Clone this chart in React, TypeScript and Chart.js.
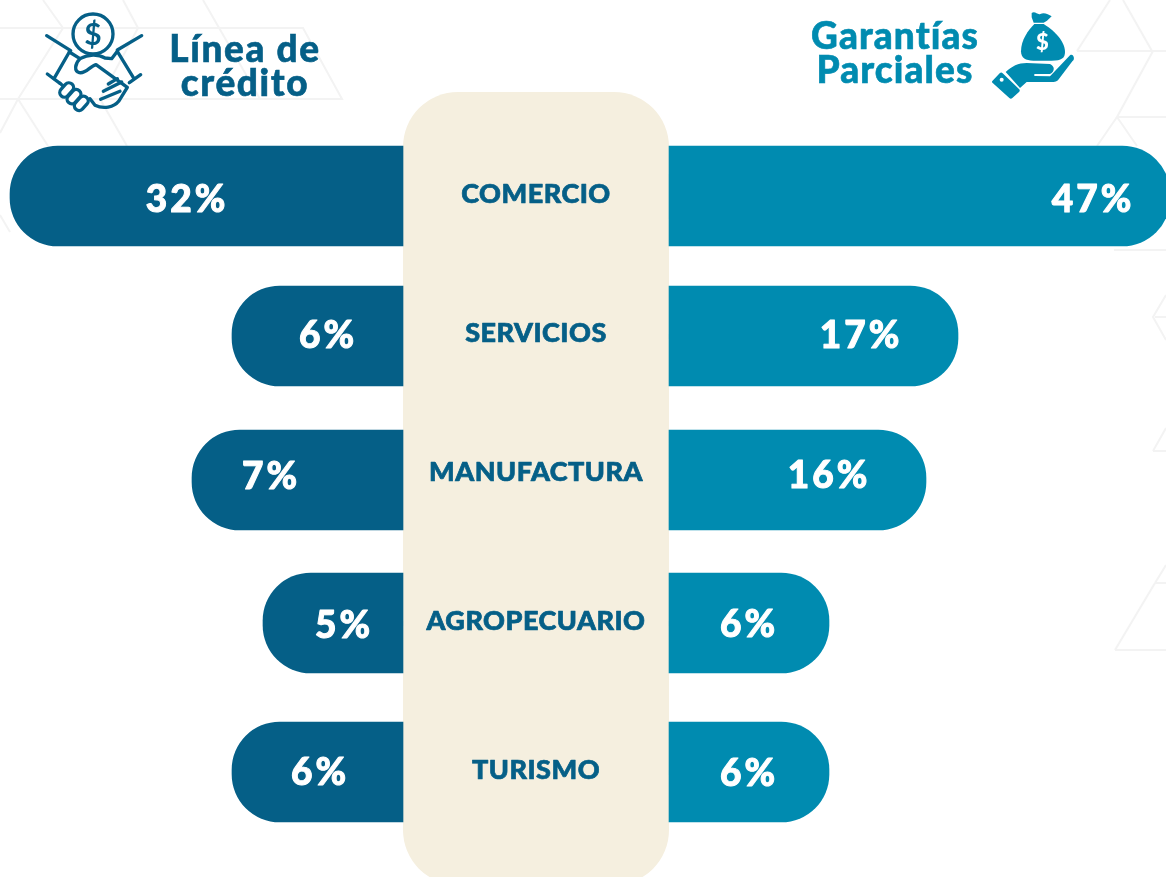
import React, { useEffect, useRef } from "react";
import { Chart, registerables } from "chart.js";

Chart.register(...registerables);

// ---- data ----
const categories = ["COMERCIO", "SERVICIOS", "MANUFACTURA", "AGROPECUARIO", "TURISMO"];
const lineaLabels = ["32%", "6%", "7%", "5%", "6%"];
const garantiasLabels = ["47%", "17%", "16%", "6%", "6%"];
// the bars in the picture are not proportional to their printed percent: these are their drawn lengths
const lineaLengths = [393, 171, 211, 140, 171];
const garantiasLengths = [501, 289, 257, 160, 160];
// row order along the value axis (rows are not quite evenly spaced in the picture)
const rowPositions = [0, 0.972, 1.972, 2.965, 4];

const DARK = "#055f87";
const LIGHT = "#008bb0";
const PANEL = "#f5efdf";
const FONT = "Lato, 'Noto Sans', sans-serif";
const HALF_PANEL = 133;

// small label nudges, layout only: along-bar position [units from panel edge], y px shift
const lineaLabelAt = [216, 75, 132, 59, 83];
const garantiasLabelAt = [424, 192, 160, 80, 80];
const lineaLabelDy = [4, 0, -3, 3, 1];
const garantiasLabelDy = [4, 0, -4, 2, 2];
const categoryDy = [-2, -3, -8, -2, -2];

function heavyText(ctx: any, text: string, x: number, y: number, stroke: number) {
  ctx.lineWidth = stroke;
  ctx.lineJoin = "round";
  ctx.strokeStyle = ctx.fillStyle;
  ctx.strokeText(text, x, y);
  ctx.fillText(text, x, y);
}

const overlayPlugin = {
  id: "overlay",
  beforeDatasetsDraw(chart: any) {
    const { ctx, scales } = chart;
    const l = scales.x.getPixelForValue(-HALF_PANEL);
    const r = scales.x.getPixelForValue(HALF_PANEL);
    ctx.save();
    ctx.fillStyle = PANEL;
    ctx.beginPath();
    ctx.roundRect(l, 92, r - l, 793, 55);
    ctx.fill();
    ctx.restore();
  },
  afterDatasetsDraw(chart: any) {
    const { ctx, scales } = chart;
    const { x, y } = scales;
    ctx.save();
    ctx.textAlign = "center";
    ctx.textBaseline = "middle";
    categories.forEach((c, i) => {
      const py = y.getPixelForValue(rowPositions[i]);
      ctx.fillStyle = DARK;
      ctx.font = `900 27px ${FONT}`;
      ctx.letterSpacing = "0.5px";
      heavyText(ctx, c, x.getPixelForValue(0), py + categoryDy[i], 0.7);
      ctx.fillStyle = "#ffffff";
      ctx.font = `900 37px ${FONT}`;
      ctx.letterSpacing = "3px";
      heavyText(ctx, lineaLabels[i], x.getPixelForValue(-HALF_PANEL - lineaLabelAt[i]), py + lineaLabelDy[i], 1);
      heavyText(ctx, garantiasLabels[i], x.getPixelForValue(HALF_PANEL + garantiasLabelAt[i]), py + garantiasLabelDy[i], 1);
    });
    ctx.restore();
  },
};

const bgLines = [
  "M0 28H303L342 99H0", "M43 0L63 28L18 99L0 133", "M123 0L138 28L100 99L127 146", "M203 0L260 99", "M18 99L48 146",
  "M1077 51L1110 0", "M1077 51H1166", "M1152 51L1123 0", "M1153 51L1117 117H1166", "M1117 117L1097 146", "M1117 117L1137 146",
  "M1114 250H1166", "M1166 295L1153 317L1166 340", "M1155 317H1166", "M1153 451L1166 428", "M1153 451H1166",
  "M1155 583L1166 565", "M1155 583H1166", "M1115 650L1155 583", "M1115 650H1166",
  "M0 215L10 232",
];

function Handshake() {
  return (
    <svg style={{ position: "absolute", left: 40, top: 8 }} width="110" height="106" viewBox="0 0 330 318"
      fill="none" stroke={DARK} strokeWidth="10" strokeLinecap="round" strokeLinejoin="round">
      <circle cx="159" cy="78" r="60" />
      <text x="159" y="110" textAnchor="middle" fontFamily={FONT} fontSize="90" fontWeight="700" fill={DARK} stroke="none">$</text>
      <path d="M20 83L92 128M305 83L232 126" />
      <path d="M88 132L42 212M232 130L282 212" />
      <path d="M22 198L60 226M302 200L268 224" />
      <path d="M88 132L120 152C104 168 102 190 118 194C138 198 150 174 168 170L262 238L236 280C222 298 190 304 165 292L150 272" />
      <path d="M120 152C145 138 175 138 195 150L215 152L232 130" />
      <path d="M205 228L232 212M190 250L245 222M182 274L240 250" />
      <path d="M60 226L72 236" />
      <rect x="66" y="222" width="28" height="48" rx="14" transform="rotate(42 80 246)" fill="#fff" />
      <rect x="88" y="242" width="28" height="48" rx="14" transform="rotate(42 102 266)" fill="#fff" />
      <rect x="110" y="262" width="28" height="48" rx="14" transform="rotate(42 124 286)" fill="#fff" />
    </svg>
  );
}

function MoneyHand() {
  return (
    <svg style={{ position: "absolute", left: 985, top: 8 }} width="100" height="96" viewBox="0 0 300 288">
      <path fill={LIGHT} d="M140 15C150 8 158 22 166 18C176 12 190 18 200 25L186 38L176 44L146 44L140 28Z" />
      <path fill={LIGHT} d="M148 48H176C205 66 240 98 240 132C240 150 230 158 200 158H145C122 158 108 150 108 130C108 96 130 66 148 48Z" />
      <text x="172" y="127" textAnchor="middle" fontFamily={FONT} fontSize="66" fontWeight="900" fill="#fff">$</text>
      <path fill={LIGHT} d="M62 192C80 175 100 165 125 165L195 168C210 175 210 190 195 198L148 198L148 204L195 205L255 142C265 135 272 155 262 160L220 215C215 222 205 222 195 222L125 222L105 240Z" />
      <path fill={LIGHT} d="M22 219L44 196C47 193 50 193 53 196L102 243C105 246 105 249 102 252L82 270C79 273 76 273 73 270L24 226C21 223 20 221 22 219Z" />
      <circle cx="50" cy="215" r="6" fill="#fff" />
    </svg>
  );
}

const titleStyle: React.CSSProperties = {
  position: "absolute",
  fontFamily: FONT,
  fontWeight: 900,
  fontSize: 37,
  lineHeight: "34px",
  textAlign: "center",
  WebkitTextStroke: "0.6px currentColor",
};

export default function App() {
  const ref = useRef<HTMLCanvasElement>(null);
  useEffect(() => {
    const chart = new Chart(ref.current!, {
      type: "bar",
      plugins: [overlayPlugin],
      data: {
        datasets: [
          {
            label: "Línea de crédito",
            data: lineaLengths.map((v, i) => ({ x: [-HALF_PANEL, -HALF_PANEL - v], y: rowPositions[i] })),
            backgroundColor: DARK,
            borderSkipped: false,
            borderRadius: { topLeft: 48, bottomLeft: 48, topRight: 0, bottomRight: 0 },
          },
          {
            label: "Garantías Parciales",
            data: garantiasLengths.map((v, i) => ({ x: [HALF_PANEL, HALF_PANEL + v], y: rowPositions[i] })),
            backgroundColor: LIGHT,
            borderSkipped: false,
            borderRadius: { topLeft: 0, bottomLeft: 0, topRight: 48, bottomRight: 48 },
          },
        ] as any,
      },
      options: {
        indexAxis: "y",
        animation: false,
        responsive: false,
        layout: { padding: 0 },
        datasets: { bar: { barThickness: 100, grouped: false } },
        plugins: { legend: { display: false }, tooltip: { enabled: false }, title: { display: false } },
        scales: {
          x: { type: "linear", min: -536, max: 630, display: false },
          y: { type: "linear", reverse: true, offset: false, min: -1.361, max: 4.729, display: false },
        },
      } as any,
    });
    return () => chart.destroy();
  }, []);
  return (
    <div style={{ position: "absolute", left: 0, top: 0, width: 1166, height: 877, overflow: "hidden", background: "#fff" }}>
      <svg style={{ position: "absolute", left: 0, top: 0 }} width="1166" height="877" fill="none" stroke="#f3f3f3" strokeWidth="2">
        {bgLines.map((d) => <path key={d} d={d} />)}
      </svg>
      <canvas ref={ref} width={1166} height={877} style={{ position: "absolute", left: 0, top: 0 }} />
      <Handshake />
      <MoneyHand />
      <div style={{ ...titleStyle, left: 145, top: 31, width: 200, color: DARK, letterSpacing: 1.6 }}>Línea de<br />crédito</div>
      <div style={{ ...titleStyle, left: 795, top: 18, width: 200, color: LIGHT, letterSpacing: 1.1 }}>Garantías<br />Parciales</div>
    </div>
  );
}
